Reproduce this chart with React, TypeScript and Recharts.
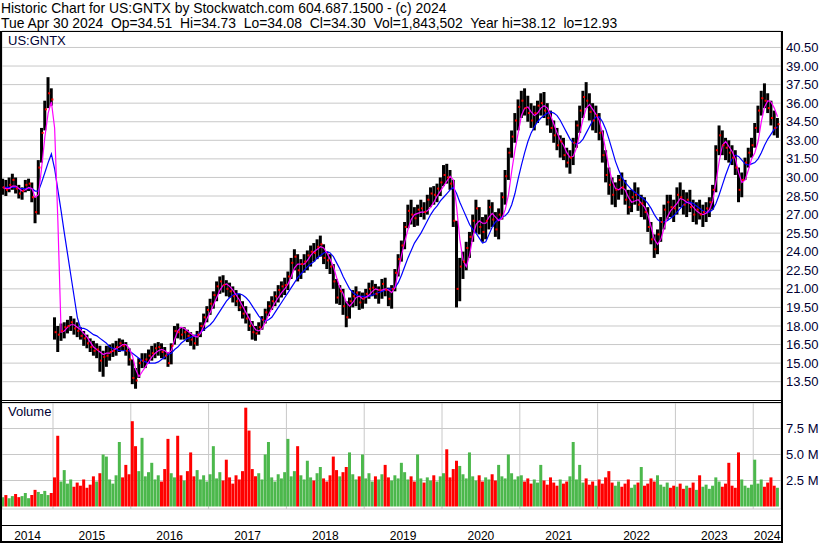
import React from 'react';
import { ComposedChart, Bar, Line, XAxis, YAxis, CartesianGrid, Cell } from 'recharts';

const FONT = "Arial, 'Liberation Sans', Helvetica, sans-serif";

// half-month periods, May 2014 .. Apr 2024
const START_YEAR = 2014 + 4 / 12;
const PERIODS_PER_YEAR = 24;

const lows = [
  // 2014
  28.6, 28.5, 28.8, 29.0, 28.7, 28.3, 28.2, 28.8, 28.9, 28.0, 26.3, 27.0, 31.2, 33.8, 35.6, 35.8,
  // 2015
  16.9, 15.9, 16.8, 17.0, 17.4, 17.6, 17.3, 17.1, 16.9, 16.4, 16.2, 15.9, 15.6, 15.4, 14.3, 13.9, 14.7, 15.2, 15.5, 15.6, 15.9, 16.0, 15.6, 14.8,
  // 2016
  13.3, 12.93, 13.8, 14.6, 14.6, 15.0, 15.2, 15.4, 15.6, 15.4, 15.3, 14.7, 14.9, 16.5, 17.0, 16.9, 16.9, 16.7, 16.4, 16.1, 16.4, 17.1, 17.6, 18.3,
  // 2017
  18.9, 19.4, 20.0, 20.6, 20.7, 20.4, 20.3, 19.9, 19.6, 19.2, 18.6, 18.2, 17.6, 16.9, 16.8, 17.3, 17.7, 18.2, 18.8, 19.3, 19.6, 19.9, 20.3, 20.5,
  // 2018
  20.9, 21.8, 22.5, 21.6, 21.8, 22.3, 22.5, 22.8, 23.2, 23.4, 23.6, 23.0, 22.6, 22.2, 21.0, 19.8, 19.7, 18.9, 17.9, 18.6, 19.5, 19.6, 19.3, 19.4,
  // 2019
  19.8, 20.2, 20.4, 20.2, 19.8, 20.2, 20.4, 19.6, 19.4, 20.8, 22.0, 23.2, 24.2, 25.9, 26.2, 26.0, 26.1, 26.8, 26.6, 27.0, 27.6, 27.8, 28.0, 28.5,
  // 2020
  29.3, 29.5, 29.0, 26.0, 19.5, 20.0, 21.8, 22.5, 23.5, 24.8, 25.5, 25.4, 24.8, 25.0, 25.8, 26.0, 25.2, 25.0, 26.6, 27.8, 29.8, 31.6, 32.8, 33.8,
  // 2021
  34.8, 35.0, 34.5, 34.0, 33.8, 34.4, 35.0, 34.8, 34.2, 33.6, 32.8, 32.2, 31.6, 31.4, 30.8, 30.3, 31.0, 32.4, 33.6, 34.8, 35.6, 34.6, 33.8, 33.6,
  // 2022
  33.0, 31.2, 29.6, 28.6, 27.8, 27.6, 28.2, 28.6, 27.8, 27.0, 27.2, 27.8, 27.3, 26.8, 26.6, 25.6, 24.6, 23.5, 23.8, 24.8, 25.8, 26.6, 26.8, 26.4,
  // 2023
  27.0, 27.6, 27.0, 26.8, 27.2, 26.4, 26.2, 26.6, 26.0, 26.4, 26.8, 27.4, 28.8, 31.8, 31.8, 31.4, 31.2, 31.0, 30.2, 28.0, 28.4, 29.8, 30.8, 31.6,
  // 2024
  32.4, 33.6, 35.0, 35.6, 35.2, 34.2, 33.4, 33.2,
];

const highs = [
  29.9, 29.8, 30.0, 30.3, 30.0, 29.4, 29.2, 29.8, 29.9, 29.6, 28.4, 31.4, 34.0, 36.2, 38.1, 37.2,
  18.7, 18.0, 18.2, 18.3, 18.5, 18.8, 18.6, 18.3, 17.9, 17.6, 17.3, 17.0, 16.8, 16.6, 16.4, 16.0, 16.4, 16.5, 16.6, 16.8, 17.0, 16.9, 16.7, 16.2,
  15.3, 14.6, 15.4, 15.8, 15.8, 16.1, 16.4, 16.6, 16.7, 16.6, 16.3, 15.9, 16.6, 18.0, 18.2, 17.9, 17.9, 17.7, 17.5, 17.3, 17.6, 18.3, 19.0, 19.6,
  20.2, 20.8, 21.6, 22.0, 22.1, 21.7, 21.5, 21.2, 20.9, 20.6, 20.0, 19.6, 19.0, 18.4, 18.0, 18.3, 18.8, 19.4, 20.0, 20.4, 20.8, 21.3, 21.6, 21.9,
  22.4, 23.5, 24.2, 23.8, 23.4, 23.8, 24.1, 24.5, 24.7, 25.0, 25.3, 24.6, 24.0, 23.8, 23.0, 21.8, 21.3, 21.0, 20.0, 20.3, 20.9, 21.2, 20.8, 20.7,
  21.0, 21.5, 21.7, 21.4, 21.2, 21.8, 21.9, 21.1, 21.3, 22.6, 23.8, 24.9, 26.4, 27.8, 28.2, 27.6, 27.8, 28.2, 28.0, 28.6, 29.2, 29.3, 29.5, 30.0,
  31.0, 31.1, 30.6, 29.8, 26.5, 23.5, 24.0, 24.8, 25.6, 27.0, 28.2, 27.6, 26.8, 27.0, 28.2, 28.0, 27.2, 27.5, 28.8, 30.6, 32.4, 33.8, 35.2, 36.3,
  37.0, 37.2, 36.6, 36.0, 35.8, 36.2, 36.8, 36.9, 36.0, 35.4, 34.6, 34.0, 33.4, 33.2, 32.4, 32.2, 33.2, 34.6, 35.8, 37.0, 37.7, 36.8, 36.0, 35.8,
  35.2, 33.8, 32.2, 30.8, 30.0, 29.6, 30.2, 30.4, 29.8, 29.0, 29.0, 29.6, 29.2, 28.6, 28.4, 27.6, 26.4, 25.4, 25.8, 26.8, 27.8, 28.6, 28.6, 28.2,
  29.2, 29.6, 29.0, 28.8, 29.0, 28.2, 28.0, 28.2, 27.8, 28.0, 28.4, 29.4, 32.6, 34.2, 33.8, 33.2, 33.0, 32.6, 32.2, 30.8, 30.4, 31.6, 32.4, 33.2,
  34.4, 35.8, 37.0, 37.6, 36.8, 36.2, 35.4, 34.8,
];

const closes = [
  29.2, 29.0, 29.4, 29.8, 29.1, 28.7, 28.9, 29.4, 29.5, 28.4, 27.2, 30.8, 33.6, 35.5, 36.8, 36.3,
  17.5, 17.3, 17.6, 17.9, 18.0, 18.3, 17.8, 17.6, 17.2, 17.0, 16.6, 16.3, 16.0, 16.1, 15.2, 15.5, 15.6, 15.9, 16.0, 16.3, 16.6, 16.4, 16.0, 15.3,
  13.8, 13.6, 15.0, 15.2, 15.3, 15.6, 15.8, 16.2, 16.3, 15.9, 15.6, 15.0, 16.4, 17.6, 17.5, 17.3, 17.5, 17.2, 16.9, 16.6, 17.3, 18.0, 18.7, 19.3,
  19.8, 20.5, 21.2, 21.6, 21.3, 21.0, 20.8, 20.4, 20.0, 19.5, 19.0, 18.6, 18.0, 17.5, 17.4, 17.9, 18.5, 19.1, 19.6, 20.0, 20.4, 20.9, 21.2, 21.3,
  22.0, 23.1, 23.6, 22.5, 23.0, 23.2, 23.7, 24.0, 23.9, 24.4, 24.6, 23.5, 23.3, 22.8, 21.6, 20.3, 20.8, 19.6, 18.7, 20.0, 20.4, 20.7, 19.9, 20.2,
  20.6, 21.0, 21.1, 20.6, 20.9, 21.4, 20.9, 20.2, 21.0, 22.3, 23.4, 24.5, 26.0, 27.3, 27.0, 26.7, 27.4, 27.5, 27.2, 28.2, 28.7, 28.6, 29.1, 29.6,
  30.2, 30.0, 29.5, 26.5, 21.0, 22.8, 23.2, 24.3, 25.2, 26.5, 27.5, 26.0, 25.6, 26.5, 27.6, 26.6, 25.8, 27.0, 28.4, 30.1, 32.0, 33.3, 34.6, 35.7,
  36.2, 35.6, 35.2, 34.6, 35.2, 35.8, 36.0, 35.4, 34.8, 34.0, 33.4, 32.6, 32.9, 31.8, 31.2, 31.6, 32.8, 34.2, 35.4, 36.5, 36.2, 35.3, 34.6, 35.0,
  33.6, 31.8, 30.2, 29.4, 28.6, 29.0, 29.8, 29.2, 28.2, 27.6, 28.4, 28.6, 27.8, 27.9, 27.2, 26.0, 25.0, 24.2, 25.4, 26.4, 27.4, 28.0, 27.6, 27.5,
  28.6, 28.4, 27.8, 28.2, 27.6, 27.0, 27.4, 27.0, 27.2, 27.5, 28.0, 29.0, 32.2, 33.4, 32.6, 32.4, 32.0, 31.6, 30.8, 29.0, 29.8, 31.2, 32.0, 32.6,
  34.0, 35.4, 36.4, 36.2, 35.6, 34.8, 34.0, 34.3,
];

// short moving average (magenta)
const maFast = [
  29.2, 29.1, 29.1, 29.3, 29.3, 29.1, 28.9, 29.0, 29.2, 29.1, 28.4, 28.6, 30.8, 33.3, 35.2, 36.1,
  34.0, 26.5, 17.5, 17.6, 17.9, 18.1, 18.1, 17.9, 17.7, 17.4, 17.1, 16.7, 16.3, 16.1, 15.9, 15.7, 15.8, 15.8, 16.0, 16.2, 16.3, 16.5, 16.5, 16.2,
  15.6, 14.5, 13.9, 14.3, 14.7, 15.1, 15.5, 15.8, 16.0, 16.1, 16.0, 15.8, 16.0, 16.9, 17.6, 17.9, 17.8, 17.6, 17.4, 17.2, 17.1, 17.4, 18.0, 18.6,
  19.1, 19.7, 20.3, 20.9, 21.3, 21.4, 21.2, 20.9, 20.5, 20.1, 19.6, 19.1, 18.6, 18.1, 17.7, 17.6, 17.8, 18.3, 18.9, 19.4, 19.9, 20.3, 20.7, 21.0,
  21.4, 22.0, 22.7, 23.0, 23.0, 23.0, 23.3, 23.7, 24.0, 24.2, 24.4, 24.3, 23.9, 23.4, 22.8, 21.9, 21.1, 20.6, 19.9, 19.6, 19.9, 20.3, 20.4, 20.2,
  20.3, 20.5, 20.8, 21.0, 20.9, 20.9, 21.0, 20.9, 20.7, 21.1, 22.4, 23.7, 24.8, 25.8, 26.6, 27.0, 27.1, 27.2, 27.2, 27.3, 27.6, 28.0, 28.5, 28.9,
  29.3, 29.7, 30.1, 29.8, 27.6, 25.0, 23.3, 22.8, 23.7, 25.2, 26.2, 26.5, 26.3, 26.3, 26.8, 27.1, 26.8, 26.5, 26.7, 27.4, 28.6, 30.5, 32.2, 33.6,
  35.0, 35.6, 35.7, 35.3, 35.0, 35.2, 35.6, 35.8, 35.6, 35.0, 34.3, 33.6, 33.0, 32.6, 32.0, 31.6, 31.7, 32.4, 33.6, 34.7, 35.6, 35.9, 35.5, 35.1,
  34.6, 33.6, 32.2, 30.8, 29.7, 29.1, 29.0, 29.2, 29.0, 28.4, 28.0, 28.1, 28.2, 27.9, 27.6, 27.0, 26.0, 25.0, 24.6, 25.0, 25.9, 26.8, 27.3, 27.6,
  27.9, 28.3, 28.2, 28.0, 27.9, 27.6, 27.3, 27.1, 27.0, 27.1, 27.4, 28.1, 29.6, 31.3, 32.6, 32.9, 32.5, 32.1, 31.5, 30.4, 29.6, 29.8, 30.6, 31.5,
  32.0, 32.9, 34.5, 35.7, 36.2, 36.1, 35.6, 34.9,
];

// long moving average (blue)
const maSlow = [
  29.2, 29.2, 29.2, 29.2, 29.2, 29.1, 29.1, 29.1, 29.1, 29.1, 28.9, 28.9, 29.6, 30.4, 31.2, 31.9,
  30.7, 29.0, 27.3, 25.5, 23.8, 22.1, 20.4, 18.7, 17.8, 17.8, 17.7, 17.5, 17.3, 17.2, 17.0, 16.8, 16.6, 16.3, 16.2, 16.1, 16.0, 16.0, 16.0, 16.0,
  15.8, 15.6, 15.4, 15.2, 15.1, 15.0, 15.0, 15.0, 15.1, 15.3, 15.5, 15.7, 15.8, 16.1, 16.3, 16.6, 16.8, 17.0, 17.1, 17.2, 17.3, 17.5, 17.7, 17.9,
  18.1, 18.4, 18.8, 19.2, 19.6, 20.0, 20.3, 20.5, 20.6, 20.6, 20.5, 20.3, 20.0, 19.6, 19.2, 18.8, 18.5, 18.4, 18.5, 18.7, 19.1, 19.5, 19.9, 20.3,
  20.7, 21.1, 21.5, 21.9, 22.2, 22.5, 22.8, 23.0, 23.2, 23.5, 23.7, 23.9, 24.0, 23.9, 23.6, 23.1, 22.6, 22.0, 21.5, 21.0, 20.7, 20.5, 20.4, 20.4,
  20.4, 20.4, 20.5, 20.6, 20.7, 20.8, 20.9, 21.0, 21.0, 21.1, 21.5, 22.1, 22.8, 23.5, 24.1, 24.7, 25.1, 25.5, 26.0, 26.5, 27.0, 27.4, 27.7, 28.1,
  28.4, 28.7, 29.0, 29.2, 28.7, 28.0, 27.4, 26.8, 26.2, 25.8, 25.5, 25.1, 24.7, 24.8, 25.4, 26.0, 26.4, 26.6, 26.8, 26.9, 27.2, 27.8, 28.7, 29.9,
  31.0, 32.0, 32.9, 33.6, 34.1, 34.5, 34.8, 35.0, 35.2, 35.3, 35.2, 35.0, 34.6, 34.1, 33.6, 33.1, 32.8, 32.7, 32.8, 33.1, 33.6, 34.1, 34.6, 34.9,
  34.9, 34.5, 33.9, 33.1, 32.2, 31.3, 30.6, 30.0, 29.6, 29.3, 29.0, 28.8, 28.6, 28.4, 28.2, 27.9, 27.5, 27.0, 26.6, 26.4, 26.4, 26.5, 26.7, 26.9,
  27.2, 27.5, 27.8, 28.0, 28.0, 27.9, 27.7, 27.5, 27.3, 27.2, 27.2, 27.4, 27.9, 28.6, 29.4, 30.2, 30.9, 31.5, 31.8, 31.7, 31.4, 31.1, 31.0, 31.1,
  31.2, 31.5, 32.0, 32.6, 33.1, 33.5, 33.9, 34.1,
];

// volume, millions of shares
const volumes = [
  0.9, 1.1, 0.8, 1.0, 1.2, 0.9, 1.0, 1.3, 0.8, 1.1, 1.6, 1.4, 1.2, 1.5, 1.1, 1.3,
  2.8, 6.8, 2.4, 3.5, 2.2, 2.6, 1.9, 2.3, 2.0, 2.6, 1.8, 2.1, 2.9, 2.4, 3.2, 5.0, 4.8, 2.6, 2.2, 3.0, 6.2, 2.8, 4.0, 3.1,
  8.2, 5.8, 3.4, 6.6, 2.9, 3.3, 4.2, 2.6, 3.0, 2.4, 3.6, 6.5, 3.2, 2.8, 6.8, 3.0, 2.5, 3.4, 5.2, 2.9, 3.5, 2.6, 3.0, 2.4,
  3.1, 5.8, 2.7, 3.3, 2.5, 4.5, 2.8, 2.2, 3.0, 2.6, 3.4, 9.5, 7.3, 3.6, 2.9, 3.2, 2.6, 5.0, 6.2, 2.8, 2.4, 3.1, 2.7, 3.3,
  6.5, 2.9, 3.4, 5.8, 3.0, 2.6, 4.4, 2.8, 2.5, 3.2, 3.8, 2.7, 2.4, 3.0, 4.8, 3.5, 2.9, 3.3, 3.8, 5.2, 3.1, 2.6, 2.9, 5.0,
  2.7, 3.2, 2.4, 2.9, 2.6, 3.1, 4.0, 2.8, 2.5, 3.0, 2.7, 4.2, 3.3, 2.6, 2.9, 2.4, 5.0, 2.7, 2.3, 2.8, 2.5, 3.0, 2.4, 2.9,
  3.2, 5.5, 2.8, 3.6, 4.4, 3.9, 3.1, 2.7, 5.2, 2.9, 2.5, 3.0, 2.4, 2.8, 2.6, 3.1, 2.5, 4.0, 2.9, 2.7, 5.0, 3.2, 2.6, 2.9,
  3.0, 2.4, 2.7, 2.2, 2.6, 2.3, 4.0, 2.5, 2.1, 2.8, 2.3, 2.0, 2.6, 2.2, 2.4, 2.9, 6.2, 2.6, 4.0, 2.3, 2.7, 2.1, 2.4, 2.0,
  2.6, 2.2, 2.8, 3.4, 2.3, 2.0, 2.4, 1.9, 2.2, 2.6, 1.8, 2.1, 2.3, 3.8, 2.0, 2.2, 2.7, 2.4, 3.0, 2.1, 1.9, 2.3, 1.8, 2.0,
  1.9, 2.2, 1.7, 2.0, 1.8, 2.3, 1.6, 3.0, 1.9, 2.1, 1.7, 2.0, 2.8, 2.4, 1.9, 2.2, 4.2, 2.0, 1.8, 5.2, 2.6, 2.0, 1.8, 2.1,
  4.5, 2.2, 2.6, 1.9, 2.3, 2.8, 2.0, 1.8,
];

const yearBoundaries = [2015, 2016, 2017, 2018, 2019, 2020, 2021, 2022, 2023, 2024];
const yearLabelTicks = [2014.672, 2015.5, 2016.5, 2017.5, 2018.5, 2019.5, 2020.5, 2021.5, 2022.5, 2023.5, 2024.178];
const priceTicks = [13.5, 15, 16.5, 18, 19.5, 21, 22.5, 24, 25.5, 27, 28.5, 30, 31.5, 33, 34.5, 36, 37.5, 39, 40.5];
const volumeTicks = [2.5, 5, 7.5];
const X_DOMAIN: [number, number] = [2014.3445, 2024.357];
const PRICE_DOMAIN: [number, number] = [11.94, 41.83];
const VOLUME_DOMAIN: [number, number] = [-0.24, 9.95];

const rows = lows.map((lo, i) => ({
  t: START_YEAR + (i + 0.5) / PERIODS_PER_YEAR,
  range: [lo, highs[i]],
  close: closes[i],
  fast: maFast[i],
  slow: maSlow[i],
  vol: volumes[i],
  up: i === 0 ? true : closes[i] >= closes[i - 1],
}));

const GRID = '#c8c8c8';
const AXIS_TEXT = '#000033';

const CloseTick = (props: any) => {
  const { cx, cy, index } = props;
  if (cx == null || cy == null) return <g key={`c-${index}`} />;
  return <rect key={`c-${index}`} x={cx} y={cy - 1} width={2} height={2} fill="#ff0000" />;
};

const DividerTick = (props: any) => {
  const { x, y } = props;
  return <line x1={x} x2={x} y1={y} y2={y + 34} stroke="#000" strokeWidth={1} />;
};

const YearLabelTick = (props: any) => {
  const { x, y, payload } = props;
  return (
    <text x={x} y={y + 30.5} textAnchor="middle" fontSize={12} fontFamily={FONT} fill="#000">
      {Math.floor(payload.value)}
    </text>
  );
};

const line = (left: number, top: number, width: number, height: number) => (
  <div style={{ position: 'absolute', left, top, width, height, background: '#000' }} />
);

export default function App() {
  return (
    <div style={{ position: 'absolute', left: 0, top: 0, width: 830, height: 543, background: '#fff', overflow: 'hidden' }}>
      <div style={{ position: 'absolute', left: 0, top: 0 }}>
        <ComposedChart width={830} height={401} data={rows} margin={{ top: 31, right: 0, bottom: 0, left: 2 }}>
          <CartesianGrid stroke={GRID} strokeWidth={1} />
          <XAxis
            type="number"
            dataKey="t"
            domain={X_DOMAIN}
            ticks={yearBoundaries}
            allowDataOverflow
            height={0}
            tick={false}
            axisLine={false}
            tickLine={false}
            interval={0}
          />
          <YAxis
            orientation="right"
            width={49}
            domain={PRICE_DOMAIN}
            allowDataOverflow
            ticks={priceTicks}
            interval={0}
            tickFormatter={(v: number) => v.toFixed(2)}
            axisLine={false}
            tickLine={false}
            tickSize={0}
            tickMargin={5}
            tick={{ fill: AXIS_TEXT, fontSize: 13, fontFamily: FONT }}
          />
          <Bar dataKey="range" fill="#000" barSize={3} isAnimationActive={false} />
          <Line dataKey="close" stroke="none" dot={CloseTick} activeDot={false} isAnimationActive={false} />
          <Line dataKey="slow" stroke="#0000ff" strokeWidth={1.2} dot={false} activeDot={false} isAnimationActive={false} />
          <Line dataKey="fast" stroke="#ff00ff" strokeWidth={1.2} dot={false} activeDot={false} isAnimationActive={false} />
        </ComposedChart>
      </div>

      <div style={{ position: 'absolute', left: 0, top: 401 }}>
        <ComposedChart width={830} height={142} data={rows} margin={{ top: 2, right: 0, bottom: 0, left: 2 }}>
          <CartesianGrid stroke={GRID} strokeWidth={1} />
          <XAxis
            type="number"
            dataKey="t"
            domain={X_DOMAIN}
            ticks={yearBoundaries}
            allowDataOverflow
            height={0}
            interval={0}
            axisLine={{ stroke: '#000', strokeWidth: 2 }}
            tickLine={false}
            tickSize={0}
            tickMargin={0}
            tick={DividerTick}
          />
          <XAxis
            xAxisId="labels"
            type="number"
            dataKey="t"
            domain={X_DOMAIN}
            ticks={yearLabelTicks}
            allowDataOverflow
            height={34}
            interval={0}
            axisLine={false}
            tickLine={false}
            tickSize={0}
            tickMargin={0}
            tick={YearLabelTick}
          />
          <YAxis
            orientation="right"
            width={49}
            domain={VOLUME_DOMAIN}
            allowDataOverflow
            ticks={volumeTicks}
            interval={0}
            tickFormatter={(v: number) => `${v.toFixed(1)} M`}
            axisLine={false}
            tickLine={false}
            tickSize={0}
            tickMargin={5}
            tick={{ fill: AXIS_TEXT, fontSize: 13, fontFamily: FONT }}
          />
          <Bar dataKey="vol" barSize={3} isAnimationActive={false}>
            {rows.map((r, i) => (
              <Cell key={`v-${i}`} fill={r.up ? '#4cb84c' : '#ff0000'} />
            ))}
          </Bar>
        </ComposedChart>
      </div>

      <svg width={830} height={543} style={{ position: 'absolute', left: 0, top: 0, pointerEvents: 'none' }}>
        <text x={1} y={12.7} fontSize={13.9} fontFamily={FONT} fill="#000" xmlSpace="preserve" style={{ whiteSpace: 'pre' }}>
          Historic Chart for US:GNTX by Stockwatch.com 604.687.1500 - (c) 2024
        </text>
        <text x={1} y={27.7} fontSize={13.9} fontFamily={FONT} fill="#000" xmlSpace="preserve" style={{ whiteSpace: 'pre' }}>
          {'Tue Apr 30 2024  Op=34.51  Hi=34.73  Lo=34.08  Cl=34.30  Vol=1,843,502  Year hi=38.12  lo=12.93'}
        </text>
        <text x={8} y={45} fontSize={13} fontFamily={FONT} fill={AXIS_TEXT}>US:GNTX</text>
        <text x={8} y={416} fontSize={13} fontFamily={FONT} fill={AXIS_TEXT}>Volume</text>
      </svg>

      {line(0, 31, 783, 1)}
      {line(0, 31, 2, 512)}
      {line(781, 31, 2, 512)}
      {line(0, 400, 781, 1)}
      {line(0, 402, 781, 1)}
      {line(0, 525, 781, 1)}
      {line(0, 541, 783, 2)}
    </div>
  );
}
